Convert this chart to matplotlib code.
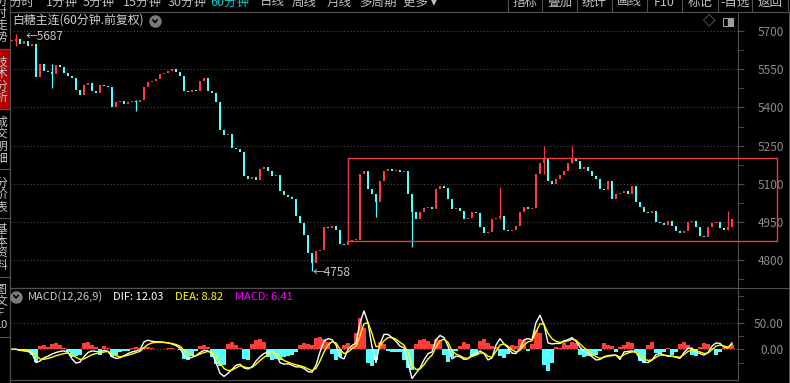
import matplotlib
matplotlib.use("Agg")
import matplotlib.pyplot as plt
from matplotlib.patches import Rectangle

plt.rcParams['font.family'] = ['Noto Sans CJK SC', 'DejaVu Sans']

### data (one close every candle slot)
closes = [5660, 5670, 5650, 5660, 5640, 5650, 5520, 5570, 5545, 5540,
          5530, 5565, 5560, 5535, 5525, 5515, 5470, 5450, 5490, 5495,
          5465, 5455, 5490, 5485, 5480, 5400, 5420, 5425, 5415, 5420,
          5425, 5420, 5430, 5480, 5500, 5505, 5510, 5530, 5535, 5545,
          5550, 5540, 5525, 5465, 5460, 5470, 5465, 5505, 5515, 5465,
          5455, 5420, 5310, 5290, 5295, 5240, 5235, 5225, 5130, 5120,
          5125, 5115, 5160, 5165, 5150, 5130, 5135, 5070, 5055, 5050,
          5040, 4975, 4945, 4900, 4830, 4790, 4835, 4840, 4930, 4925,
          4935, 4920, 4865, 4860, 4875, 4880, 4880, 5140, 5150, 5080,
          5060, 5030, 5110, 5150, 5160, 5150, 5155, 5145, 5150, 5060,
          4990, 4960, 4990, 5005, 5010, 5000, 5080, 5090, 5085, 5040,
          5000, 5005, 4995, 4960, 4965, 4990, 4985, 4930, 4905, 4910,
          4960, 4965, 4975, 4920, 4915, 4920, 4935, 4990, 5010, 5000,
          5005, 5140, 5180, 5200, 5110, 5100, 5120, 5135, 5150, 5180,
          5200, 5190, 5160, 5165, 5150, 5130, 5120, 5080, 5075, 5110,
          5040, 5060, 5065, 5070, 5060, 5090, 5030, 5010, 4990, 4985,
          4995, 4950, 4945, 4940, 4955, 4935, 4915, 4905, 4915, 4950,
          4955, 4930, 4895, 4890, 4930, 4945, 4950, 4925, 4920, 4930,
          4960]

# long shadows that stand out
wick_idx = [1, 10, 31, 75, 91, 100, 122, 133, 140, 179]
wick_lo = [5640, 5475, 5385, 4758, 4968, 4852, 4960, 5140, 5180, 4920]
wick_hi = [5687, 5570, 5430, 4830, 5060, 5000, 5088, 5250, 5250, 4992]

dif = [0, 0, -2, -3, -4, -8, -25, -22, -16, -13,
       -9, -6, -4, -3, -6, -18, -26, -24, -14, -6,
       -3, -4, -5, -2, -4, -14, -17, -16, -12, -8,
       -5, -3, -1, 14, 17, 15, 14, 14, 13, 12,
       10, 7, 2, -12, -17, -15, -12, -6, -2, -3,
       -8, -25, -45, -51, -45, -38, -30, -28, -35, -37,
       -33, -22, -14, -8, -5, -4, -10, -25, -28, -27,
       -30, -33, -33, -36, -42, -43, -30, -5, 15, 20,
       18, 8, -15, -18, 0, 7, 12, 50, 72, 50,
       5, -25, 10, 28, 28, 22, 15, 6, 3, -25,
       -55, -45, -35, -20, -8, -5, 18, 26, 22, 6,
       -18, -13, -14, -19, -18, -10, -9, -3, -8, -20,
       -16, 8, 20, 10, 3, -7, -8, 2, 18, 20,
       18, 50, 64, 46, 12, 10, 11, 11, 16, 18,
       22, 15, 4, -4, -7, -14, -20, -19, -14, -12,
       -11, -11, -19, -5, -4, -3, -6, -18, -24, -25,
       -20, -10, -8, -11, -13, -13, -15, -17, -6, 2,
       2, -5, -8, -11, -6, 6, 12, 11, 4, 3,
       12]

dea = [0, 0, -1, -2, -3, -5, -12, -18, -19, -17,
       -15, -12, -10, -8, -7, -10, -15, -19, -18, -14,
       -10, -8, -7, -5, -4, -8, -12, -14, -13, -11,
       -9, -6, -4, 3, 9, 12, 13, 13, 13, 12,
       11, 9, 6, -2, -8, -11, -12, -9, -6, -4,
       -5, -13, -26, -36, -40, -39, -35, -31, -33, -35,
       -34, -28, -21, -15, -10, -7, -8, -15, -21, -24,
       -27, -29, -31, -33, -37, -40, -36, -22, -5, 8,
       14, 12, 0, -8, -5, 1, 6, 25, 48, 50,
       30, 5, 6, 16, 22, 22, 19, 13, 8, -6,
       -30, -38, -37, -29, -18, -11, 4, 16, 19, 13,
       -3, -9, -12, -16, -17, -13, -11, -7, -7, -13,
       -15, -4, 8, 10, 6, -1, -5, -2, 8, 14,
       16, 33, 48, 47, 30, 20, 15, 13, 14, 16,
       19, 17, 10, 3, -2, -8, -14, -17, -15, -13,
       -12, -11, -15, -10, -7, -5, -5, -11, -18, -21,
       -20, -15, -11, -11, -12, -13, -14, -15, -10, -4,
       -1, -3, -5, -8, -7, -1, 6, 8, 6, 4,
       9]

macd = [0, 0, -3, -4, -3, -10, -23, 6, 8, 5,
        10, 11, 9, 3, -6, -14, -13, -10, 12, 14,
        8, 4, -10, 6, 3, -14, -10, -5, -4, -3,
        2, 5, 3, 5, 4, 2, 1, 1, 1, 3,
        3, 1, -2, -18, -20, -12, -4, 6, 8, 4,
        -15, -28, -32, -30, 10, 14, 8, 2, -18, -20,
        10, 17, 19, 14, -15, -20, -18, -20, -15, -12,
        -10, -5, 8, 12, 10, 8, 22, 24, 20, 14,
        -8, -20, -15, 8, 11, 6, 30, 58, 40, -25,
        -32, -20, 14, 10, -3, -6, -6, -5, -20, -35,
        -39, 10, 18, 19, 15, 10, 20, 18, -10, -23,
        -15, -4, 6, 14, 10, -14, -10, 15, 20, 12,
        6, 4, -12, -16, -8, 8, 6, 20, 18, -4,
        10, 36, 30, -30, -40, -25, 4, 3, 11, 9,
        14, 12, -10, -14, -12, -13, -10, -3, 11, 8,
        6, -5, 5, 8, 14, 12, -5, -22, -26, 8,
        14, -7, -8, -6, 3, -10, -5, 10, 14, 8,
        -11, -12, 5, 12, 10, 3, -10, -6, 2, 4,
        8]

price_ticks = [4800, 4950, 5100, 5250, 5400, 5550, 5700]
box_lo, box_hi = 4874, 5200

RED = '#ff3c3c'
CYAN = '#54ffff'
GRID = '#4a4a4a'
AXC = '#505050'
W, H = 790, 383

def fx(px):
    return px / W

def fy(py):
    return 1 - py / H

def icon(x, y):
    # grey round button with a dark chevron
    fig.add_artist(plt.Line2D([fx(x)], [fy(y)], marker='o', ms=9, color='#7a7a7a', mew=0))
    fig.add_artist(plt.Line2D([fx(x - 2), fx(x), fx(x + 2)], [fy(y - 1), fy(y + 1.5), fy(y - 1)],
                              color='black', lw=1.2))

fig = plt.figure(figsize=(7.9, 3.83), dpi=100, facecolor='black')

### price panel
ax = fig.add_axes([fx(10), fy(288), fx(738) - fx(10), fy(12) - fy(288)], facecolor='black')
n = len(closes)
xs = list(range(n))
opens = [closes[0]] + closes[:-1]
cols = [RED if c >= o else CYAN for o, c in zip(opens, closes)]
bottoms = [min(o, c) for o, c in zip(opens, closes)]
heights = [max(abs(c - o), 4) for o, c in zip(opens, closes)]
ax.bar(xs, heights, bottom=bottoms, width=0.6, color=cols, linewidth=0, zorder=3)
ax.vlines(wick_idx, wick_lo, wick_hi, colors=[cols[i] for i in wick_idx], lw=0.9, zorder=3)

for p in price_ticks:
    ax.axhline(p, color=GRID, ls=(0, (1, 2)), lw=0.8, zorder=1)

ax.set_xlim(-0.5, 181.5)
ax.set_ylim(4690.6, 5767.5)
ax.set_xticks([])
ax.yaxis.tick_right()
ax.set_yticks(price_ticks)
ax.set_yticks(list(range(4725, 5776, 150)), minor=True)
ax.tick_params(axis='y', which='both', colors=AXC, length=4, labelcolor='#8c8c8c',
               labelsize=8.5, pad=29)
for lab in ax.get_yticklabels():
    lab.set_horizontalalignment('right')
for s in ax.spines.values():
    s.set_color(AXC)
    s.set_linewidth(0.8)

# box drawn on the chart, runs into the axis strip
ax.add_patch(Rectangle((84.1, box_lo), 191.25 - 84.1, box_hi - box_lo, fill=False,
                       edgecolor='#e84040', lw=1, clip_on=False, zorder=4))

### macd panel
ax2 = fig.add_axes([fx(10), fy(380), fx(738) - fx(10), fy(288) - fy(380)], facecolor='black')
mcol = [RED if v >= 0 else CYAN for v in macd]
ax2.bar(xs, macd, width=0.9, color=mcol, linewidth=0, zorder=2)
ax2.plot(xs, dif, color='white', lw=1, zorder=3)
ax2.plot(xs, dea, color='#ffff00', lw=1, zorder=3)
ax2.axhline(0, color='#6a6a6a', ls=(0, (1, 2)), lw=0.8, zorder=1)
ax2.axhline(50, color=GRID, ls=(0, (1, 2)), lw=0.8, zorder=1)
ax2.set_xlim(-0.5, 181.5)
ax2.set_ylim(-57.7, 115.2)
ax2.set_xticks([])
ax2.yaxis.tick_right()
ax2.set_yticks([0, 50])
ax2.set_yticklabels(['0.00', '50.00'])
ax2.set_yticks([-25, 25, 75, 100], minor=True)
ax2.tick_params(axis='y', which='both', colors=AXC, length=4, labelcolor='#8c8c8c',
                labelsize=8.5, pad=29)
for lab in ax2.get_yticklabels():
    lab.set_horizontalalignment('right')
for s in ax2.spines.values():
    s.set_color(AXC)
    s.set_linewidth(0.8)

### frame lines
fig.add_artist(plt.Line2D([fx(10), 1], [fy(12), fy(12)], color=AXC, lw=0.8))
fig.add_artist(plt.Line2D([fx(10), 1], [fy(288), fy(288)], color=AXC, lw=0.8))
fig.add_artist(plt.Line2D([fx(789), fx(789)], [0, fy(12)], color=AXC, lw=0.8))
fig.add_artist(plt.Line2D([fx(9.5), fx(9.5)], [0, 1], color=AXC, lw=0.8))

### top menu bar (cut at the top edge)
menu = [('分时', 22), ('1分钟', 62), ('5分钟', 99), ('15分钟', 142), ('30分钟', 187),
        ('60分钟', 230), ('日线', 272), ('周线', 304), ('月线', 339), ('多周期', 378),
        ('更多 ▾', 420)]
for t, x in menu:
    c = '#00d0d0' if t == '60分钟' else '#c0c0c0'
    fig.text(fx(x), fy(2), t, color=c, fontsize=9, ha='center', va='center')
btns = ['指标', '叠加', '统计', '画线', 'F10', '标记', '-自选', '返回']
seps = [508, 542, 577, 612, 647, 682, 718, 752, 788]
for i, t in enumerate(btns):
    fig.text(fx((seps[i] + seps[i + 1]) / 2), fy(2), t, color='#c0c0c0', fontsize=9,
             ha='center', va='center')
for x in seps:
    fig.add_artist(plt.Line2D([fx(x), fx(x)], [fy(11), 1], color=AXC, lw=0.8))

### left side tabs (mostly hidden)
fig.add_artist(Rectangle((0, fy(109)), fx(9), fy(49) - fy(109), color='#b00000'))
side = [('分时走势', 1), ('技术分析', 62), ('成交明细', 122), ('分价表', 183),
        ('基本资料', 229), ('图文', 289)]
for word, y0 in side:
    for k, ch in enumerate(word):
        fig.text(fx(1), fy(y0 + 12 * k), ch, color='#c8c8c8', fontsize=8.5,
                 ha='center', va='center')
fig.text(fx(1), fy(313), 'F', color='#c8c8c8', fontsize=8, ha='center', va='center')
fig.text(fx(1), fy(325), '10', color='#c8c8c8', fontsize=8, ha='center', va='center')
for y in [49, 109, 169, 218, 277, 337]:
    fig.add_artist(plt.Line2D([0, fx(9.5)], [fy(y), fy(y)], color=AXC, lw=0.8))

### titles and markers
fig.text(fx(12), fy(20), '白糖主连(60分钟.前复权)', color='#d0d0d0', fontsize=8.6, va='center')
icon(155, 21)
fig.text(fx(26), fy(37), '←5687', color='#c8c8c8', fontsize=8.5, va='center')
fig.text(fx(313), fy(272), '←4758', color='#c8c8c8', fontsize=8.5, va='center')
fig.text(fx(709), fy(22), '◇', color='#a0a0a0', fontsize=9, ha='center', va='center')
fig.add_artist(Rectangle((fx(723), fy(26)), fx(10), fy(18) - fy(26), fill=False,
                         edgecolor='#a0a0a0', lw=0.8))
fig.add_artist(Rectangle((fx(728), fy(25)), fx(4), fy(19) - fy(25), color='#a0a0a0'))

icon(16, 296.5)
fig.text(fx(28), fy(297), 'MACD(12,26,9)', color='#c8c8c8', fontsize=8, va='center')
fig.text(fx(113), fy(297), 'DIF: 12.03', color='white', fontsize=8, va='center')
fig.text(fx(175), fy(297), 'DEA: 8.82', color='#ffff00', fontsize=8, va='center')
fig.text(fx(235), fy(297), 'MACD: 6.41', color='#ff00ff', fontsize=8, va='center')

fig.savefig('out.png', dpi=100, facecolor='black')
